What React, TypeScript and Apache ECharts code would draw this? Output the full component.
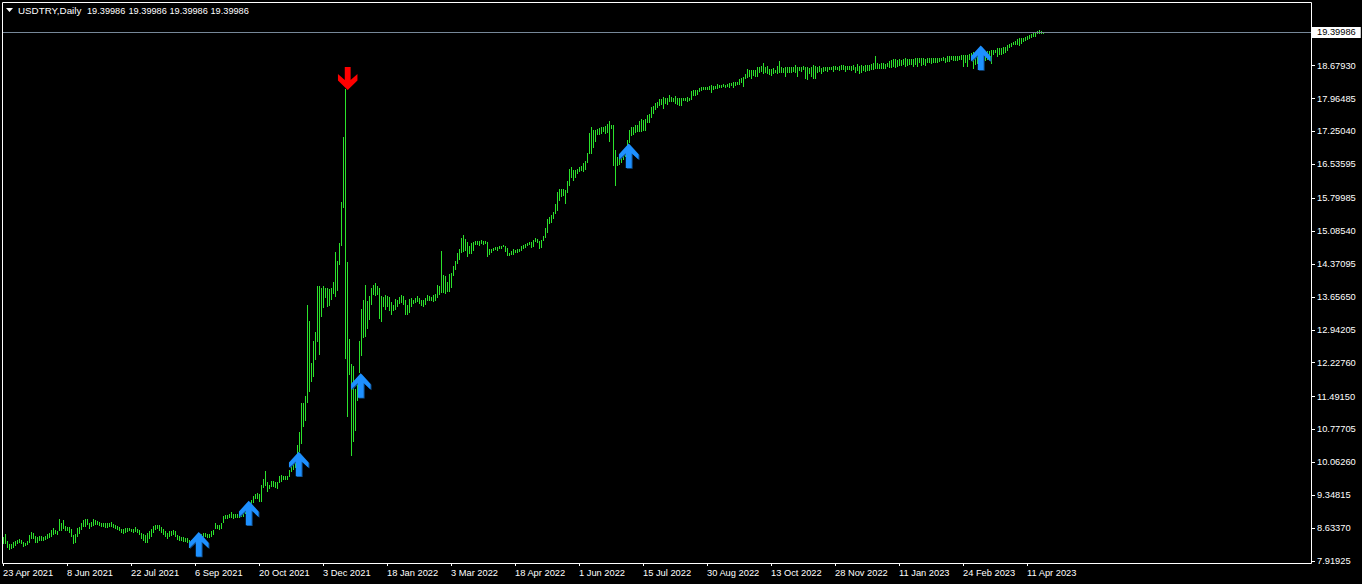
import React, { useEffect, useRef } from "react";
import * as echarts from "echarts";

const symbolName = "USDTRY,Daily";
const lastPrice = 19.39986;
const xTickLabels = ["23 Apr 2021","8 Jun 2021","22 Jul 2021","6 Sep 2021","20 Oct 2021","3 Dec 2021","18 Jan 2022","3 Mar 2022","18 Apr 2022","1 Jun 2022","15 Jul 2022","30 Aug 2022","13 Oct 2022","28 Nov 2022","11 Jan 2023","24 Feb 2023","11 Apr 2023"];
const yTicks = [18.6793,17.96485,17.2504,16.53595,15.79985,15.0854,14.37095,13.6565,12.94205,12.2276,11.4915,10.77705,10.0626,9.34815,8.6337,7.91925];

const highs = [
8.43,8.50,8.36,8.29,8.29,8.34,8.36,8.37,8.39,8.37,
8.33,8.32,8.35,8.48,8.54,8.52,8.46,8.45,8.46,8.46,
8.45,8.46,8.50,8.52,8.59,8.63,8.59,8.58,8.82,8.75,
8.80,8.68,8.66,8.65,8.61,8.48,8.50,8.63,8.65,8.75,
8.80,8.82,8.82,8.74,8.77,8.82,8.80,8.78,8.77,8.75,
8.75,8.74,8.74,8.75,8.77,8.72,8.69,8.68,8.66,8.62,
8.61,8.63,8.64,8.64,8.62,8.61,8.65,8.62,8.59,8.53,
8.50,8.48,8.52,8.56,8.61,8.68,8.70,8.70,8.70,8.65,
8.61,8.56,8.52,8.56,8.58,8.59,8.56,8.48,8.46,8.45,
8.43,8.42,8.41,8.37,8.38,8.40,8.45,8.48,8.50,8.51,
8.52,8.52,8.50,8.50,8.58,8.60,8.74,8.71,8.71,8.75,
8.90,8.92,8.92,8.95,8.98,8.95,8.93,8.93,8.94,8.95,
8.98,9.03,9.13,9.21,9.24,9.32,9.37,9.40,9.37,9.56,
9.71,9.87,9.64,9.56,9.66,9.66,9.63,9.63,9.76,9.79,
9.76,9.76,9.76,9.89,9.98,10.04,10.08,10.44,10.71,11.34,
11.34,11.50,13.48,13.13,12.23,12.70,12.90,13.89,13.89,13.85,
13.89,13.86,13.84,13.83,13.85,13.98,14.64,14.43,14.82,15.71,
17.12,18.18,14.41,12.74,12.20,12.15,11.65,11.78,12.70,13.39,
13.59,13.91,13.57,13.67,13.86,13.91,13.96,13.89,13.85,13.67,
13.66,13.70,13.67,13.65,13.55,13.48,13.60,13.59,13.66,13.70,
13.67,13.59,13.48,13.60,13.63,13.59,13.63,13.68,13.63,13.59,
13.59,13.63,13.70,13.68,13.65,13.70,13.72,13.92,13.89,14.65,
14.13,14.12,13.99,14.15,14.18,14.33,14.44,14.61,14.70,14.94,
15.01,14.91,14.85,14.76,14.83,14.85,14.87,14.87,14.87,14.89,
14.87,14.87,14.85,14.70,14.70,14.72,14.74,14.74,14.76,14.76,
14.78,14.76,14.72,14.61,14.65,14.70,14.67,14.70,14.70,14.76,
14.78,14.80,14.83,14.85,14.85,14.89,14.94,14.91,14.87,14.89,
14.98,15.15,15.34,15.40,15.44,15.50,15.67,15.93,16.00,16.00,
16.00,15.98,16.17,16.43,16.48,16.41,16.41,16.43,16.48,16.50,
16.57,16.61,16.78,17.22,17.35,17.28,17.28,17.30,17.33,17.35,
17.35,17.37,17.41,17.48,17.39,17.39,16.85,16.70,16.70,16.74,
16.77,16.88,17.06,17.28,17.35,17.35,17.39,17.39,17.48,17.52,
17.50,17.51,17.61,17.63,17.79,17.80,17.87,17.89,17.95,17.95,
18.00,17.97,17.98,18.04,18.00,17.98,18.02,17.98,17.98,17.98,
17.98,17.98,18.00,17.98,18.13,18.14,18.14,18.16,18.19,18.21,
18.21,18.22,18.22,18.24,18.26,18.24,18.23,18.29,18.26,18.27,
18.29,18.27,18.29,18.30,18.30,18.32,18.33,18.33,18.38,18.42,
18.43,18.50,18.61,18.59,18.58,18.59,18.59,18.64,18.65,18.68,
18.74,18.64,18.68,18.61,18.61,18.62,18.59,18.68,18.78,18.64,
18.62,18.66,18.65,18.65,18.64,18.64,18.69,18.66,18.66,18.65,
18.68,18.64,18.64,18.62,18.64,18.69,18.68,18.64,18.67,18.62,
18.64,18.64,18.64,18.64,18.66,18.67,18.67,18.64,18.67,18.69,
18.69,18.67,18.67,18.67,18.67,18.69,18.66,18.72,18.67,18.69,
18.67,18.70,18.70,18.70,18.72,18.73,18.88,18.74,18.72,18.73,
18.73,18.72,18.74,18.77,18.80,18.82,18.82,18.80,18.82,18.80,
18.83,18.84,18.82,18.82,18.83,18.82,18.85,18.85,18.85,18.84,
18.84,18.83,18.85,18.85,18.85,18.85,18.85,18.85,18.85,18.85,
18.86,18.85,18.88,18.89,18.88,18.90,18.89,18.90,18.89,18.92,
18.92,18.92,18.92,18.93,18.96,18.98,18.93,18.95,18.97,18.98,
18.98,18.99,19.00,19.00,19.02,19.02,19.03,19.06,19.06,19.07,
19.09,19.09,19.13,19.15,19.18,19.20,19.22,19.25,19.27,19.27,
19.29,19.31,19.32,19.35,19.37,19.40,19.40,19.43,19.45,19.44,
19.41,19.41];

const lows = [
8.29,8.29,8.19,8.16,8.17,8.21,8.24,8.28,8.30,8.29,
8.23,8.25,8.27,8.30,8.39,8.39,8.30,8.32,8.36,8.36,
8.36,8.37,8.39,8.41,8.43,8.48,8.50,8.48,8.56,8.58,
8.61,8.58,8.56,8.53,8.43,8.29,8.30,8.43,8.50,8.59,
8.65,8.65,8.70,8.61,8.65,8.68,8.70,8.70,8.68,8.66,
8.65,8.64,8.63,8.66,8.66,8.64,8.62,8.59,8.58,8.53,
8.50,8.53,8.55,8.56,8.55,8.53,8.55,8.52,8.48,8.39,
8.36,8.32,8.30,8.39,8.45,8.52,8.59,8.61,8.58,8.53,
8.48,8.43,8.39,8.43,8.46,8.48,8.43,8.37,8.36,8.35,
8.34,8.34,8.30,8.19,8.25,8.28,8.30,8.33,8.40,8.42,
8.43,8.44,8.41,8.41,8.45,8.48,8.61,8.61,8.60,8.61,
8.74,8.82,8.83,8.85,8.86,8.84,8.85,8.85,8.85,8.87,
8.88,8.95,8.99,9.06,9.10,9.17,9.26,9.26,9.21,9.21,
9.50,9.55,9.42,9.49,9.52,9.52,9.50,9.48,9.61,9.64,
9.68,9.68,9.68,9.74,9.86,9.89,9.93,10.11,10.29,10.46,
10.84,10.95,11.34,11.60,11.81,11.92,12.29,12.68,12.39,13.23,
13.41,13.63,13.44,13.46,13.59,13.72,13.65,13.79,14.35,14.77,
15.59,12.31,11.05,11.96,10.21,10.51,10.75,11.40,12.00,12.37,
12.77,12.79,12.96,13.15,13.48,13.70,13.67,13.70,13.17,13.10,
13.44,13.37,13.44,13.36,13.26,13.34,13.37,13.43,13.50,13.53,
13.48,13.26,13.26,13.30,13.44,13.50,13.52,13.54,13.50,13.46,
13.44,13.48,13.57,13.57,13.57,13.54,13.57,13.64,13.70,13.75,
13.75,13.72,13.77,13.77,13.86,14.10,14.23,14.37,14.46,14.61,
14.64,14.65,14.53,14.59,14.59,14.65,14.78,14.78,14.77,14.81,
14.78,14.81,14.52,14.57,14.60,14.65,14.67,14.65,14.70,14.70,
14.73,14.64,14.54,14.54,14.57,14.57,14.60,14.61,14.63,14.65,
14.70,14.71,14.76,14.78,14.72,14.75,14.84,14.82,14.70,14.72,
14.86,14.94,15.05,15.25,15.26,15.35,15.46,15.52,15.74,15.83,
15.85,15.67,15.92,16.07,16.24,16.17,16.24,16.33,16.37,16.39,
16.37,16.41,16.57,16.76,16.76,16.89,17.02,17.17,17.17,17.20,
17.24,17.19,17.22,17.02,17.30,16.49,16.06,16.50,16.52,16.56,
16.63,16.70,16.77,16.99,17.15,17.18,17.22,17.24,17.24,17.24,
17.26,17.25,17.43,17.44,17.54,17.64,17.72,17.75,17.81,17.82,
17.74,17.84,17.82,17.90,17.88,17.88,17.84,17.82,17.81,17.80,
17.91,17.91,17.90,17.91,17.93,18.03,18.03,18.04,18.11,18.13,
18.14,18.14,18.15,18.15,18.09,18.15,18.17,18.17,18.19,18.20,
18.21,18.19,18.22,18.20,18.23,18.20,18.24,18.26,18.26,18.30,
18.22,18.39,18.42,18.43,18.40,18.45,18.43,18.43,18.52,18.55,
18.50,18.52,18.50,18.48,18.46,18.50,18.52,18.50,18.52,18.52,
18.52,18.43,18.52,18.53,18.52,18.55,18.53,18.43,18.56,18.55,
18.59,18.38,18.36,18.50,18.43,18.40,18.38,18.51,18.55,18.50,
18.54,18.56,18.54,18.59,18.59,18.54,18.59,18.59,18.56,18.59,
18.59,18.54,18.59,18.59,18.57,18.59,18.53,18.56,18.50,18.53,
18.57,18.55,18.57,18.57,18.59,18.59,18.60,18.61,18.61,18.61,
18.61,18.61,18.64,18.62,18.62,18.66,18.62,18.64,18.67,18.67,
18.70,18.66,18.67,18.69,18.69,18.64,18.70,18.66,18.73,18.67,
18.69,18.67,18.73,18.73,18.72,18.73,18.74,18.73,18.76,18.77,
18.79,18.74,18.76,18.76,18.80,18.77,18.77,18.77,18.80,18.80,
18.66,18.74,18.64,18.80,18.80,18.61,18.70,18.72,18.75,18.75,
18.77,18.78,18.80,18.80,18.72,18.91,18.95,18.87,18.91,18.91,
18.93,18.96,19.00,19.06,19.09,19.12,19.12,19.13,19.11,19.15,
19.19,19.22,19.24,19.26,19.29,19.31,19.31,19.36,19.37,19.37,
19.37,19.39];

const upArrowBars = [98, 123, 148, 179, 313, 489];
const upArrowPrices = [8.548, 9.228, 10.293, 11.996, 16.99, 19.12];
const downArrowBars = [172];
const downArrowPrices = [18.15];

const UP_PATH = "path://M10,0 L20,11 L20,16.5 L13,10 L13,25 L7,25 L7,10 L0,16.5 L0,11 Z";
const DOWN_PATH = "path://M7,0 L13,0 L13,13 L20,7 L20,13.5 L10,23 L0,13.5 L0,7 L7,13 Z";
const FONT = "'Liberation Sans', Arial, sans-serif";
const BAR_COUNT = 655;
const TICK_STEP = 32;

export default function App() {
  const ref = useRef<HTMLDivElement>(null);
  useEffect(() => {
    document.body.style.margin = "0";
    document.body.style.background = "#000";
    const chart = echarts.init(ref.current!, undefined, { renderer: "svg" });
    const categories = Array.from({ length: BAR_COUNT }, (_, i) =>
      i % TICK_STEP === 0 && xTickLabels[i / TICK_STEP] ? xTickLabels[i / TICK_STEP] : ""
    );
    const hl = highs.map((h, i) => [i, h, lows[i]]);
    const priceTexts = [87, 128.5, 169.5, 210.5].map((x) => ({
      type: "text", x, y: 10.5,
      style: { text: lastPrice.toFixed(5), fill: "#fff", font: `9.2px ${FONT}`, textVerticalAlign: "middle" },
    }));
    chart.setOption({
      animation: false,
      backgroundColor: "#000",
      grid: { left: 2, top: 2, width: 1310, height: 561, containLabel: false },
      xAxis: {
        type: "category",
        data: categories,
        boundaryGap: true,
        axisLine: { show: false },
        axisTick: {
          show: true, length: 3, alignWithLabel: true,
          interval: (i: number) => i % TICK_STEP === 0 && i / TICK_STEP < xTickLabels.length,
          lineStyle: { color: "#fff", width: 1 },
        },
        axisLabel: {
          show: true, color: "#fff", fontFamily: FONT, fontSize: 9.3, align: "left", margin: 5,
          interval: (i: number) => i % TICK_STEP === 0 && i / TICK_STEP < xTickLabels.length,
          hideOverlap: false,
        },
        splitLine: { show: false },
      },
      yAxis: {
        type: "value",
        position: "right",
        min: 7.8749,
        max: 20.0624,
        axisLine: { show: false },
        axisTick: { show: true, length: 3, customValues: yTicks, lineStyle: { color: "#fff", width: 1 } },
        axisLabel: {
          show: true, color: "#fff", fontFamily: FONT, fontSize: 9.3, margin: 5, customValues: yTicks,
          formatter: (v: number) => v.toFixed(5),
        },
        splitLine: { show: false },
      },
      graphic: [
        { type: "rect", shape: { x: 2.5, y: 2.5, width: 1309, height: 561 }, style: { fill: "none", stroke: "#fff", lineWidth: 1 }, z: 100 },
        { type: "polygon", shape: { points: [[6, 8], [13, 8], [9.5, 12]] }, style: { fill: "#fff" } },
        { type: "text", x: 18, y: 10.5, style: { text: symbolName, fill: "#fff", font: `9.8px ${FONT}`, textVerticalAlign: "middle" } },
        ...priceTexts,
      ],
      series: [
        {
          type: "custom",
          data: hl,
          encode: { x: 0, y: [1, 2] },
          clip: false,
          renderItem: (_: any, api: any) => {
            const top = api.coord([api.value(0), api.value(1)]);
            const bottom = api.coord([api.value(0), api.value(2)]);
            const y0 = Math.round(top[1]);
            const y1 = Math.max(y0 + 1, Math.round(bottom[1]));
            return {
              type: "rect",
              shape: { x: Math.round(top[0]), y: y0, width: 1, height: y1 - y0 },
              style: { fill: "#2be22b" },
            };
          },
          markLine: {
            silent: true,
            symbol: "none",
            lineStyle: { color: "#778899", width: 1, type: "solid" },
            label: {
              show: true, position: "end", distance: 0, formatter: lastPrice.toFixed(5),
              color: "#000", backgroundColor: "#fff", fontFamily: FONT, fontSize: 9.3,
              padding: [1, 5, 1, 5], align: "left", verticalAlign: "middle",
            },
            data: [{ yAxis: lastPrice }],
          },
        },
        {
          type: "scatter",
          symbol: UP_PATH,
          symbolSize: [19.5, 24.5],
          symbolOffset: [0.7, 13],
          itemStyle: { color: "#114f8c", opacity: 1 },
          data: upArrowBars.map((b, i) => [b, upArrowPrices[i]]),
          z: 5,
        },
        {
          type: "scatter",
          symbol: UP_PATH,
          symbolSize: [19.5, 24.5],
          symbolOffset: [-0.3, 12.25],
          itemStyle: { color: "#1e90ff", opacity: 1 },
          data: upArrowBars.map((b, i) => [b, upArrowPrices[i]]),
          z: 6,
        },
        {
          type: "scatter",
          symbol: DOWN_PATH,
          symbolSize: [19.5, 23],
          symbolOffset: [0.7, -11.5],
          itemStyle: { color: "#ff0000", opacity: 1 },
          data: downArrowBars.map((b, i) => [b, downArrowPrices[i]]),
          z: 6,
        },
      ],
    });
    return () => chart.dispose();
  }, []);
  return <div ref={ref} style={{ width: 1362, height: 584, display: "block" }} />;
}
